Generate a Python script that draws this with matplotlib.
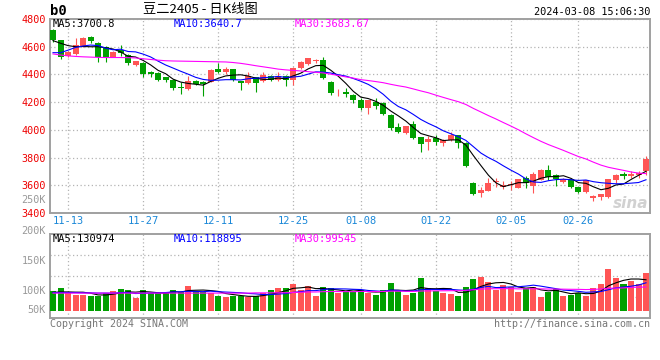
import numpy as np
import matplotlib
matplotlib.use("Agg")
import matplotlib.pyplot as plt

# ---------------- data ----------------
opens = [4720, 4645, 4535, 4545, 4598, 4668, 4625, 4598, 4528, 4575,
         4540, 4468, 4480, 4420, 4410, 4380, 4360, 4305, 4295, 4353,
         4348, 4348, 4437, 4415, 4437, 4353, 4336, 4379, 4353, 4389,
         4360, 4389, 4360, 4444, 4475, 4500, 4504, 4348, 4270, 4273,
         4252, 4219, 4161, 4204, 4192, 4108, 4019, 3976, 4043, 3945,
         3909, 3938, 3906, 3926, 3960, 3906, 3619, 3544, 3562, 3625,
         3586, 3600, 3582, 3654, 3594, 3640, 3709, 3673, 3627, 3645,
         3586, 3549, 3510, 3513, 3513, 3640, 3678, 3666, 3676, 3700]
highs = [4728, 4650, 4570, 4662, 4670, 4676, 4632, 4605, 4570, 4615,
         4545, 4500, 4490, 4428, 4415, 4385, 4365, 4345, 4388, 4358,
         4352, 4440, 4480, 4456, 4440, 4355, 4420, 4384, 4420, 4396,
         4420, 4396, 4456, 4500, 4520, 4512, 4528, 4350, 4292, 4304,
         4256, 4228, 4218, 4228, 4198, 4112, 4048, 4030, 4065, 3950,
         3957, 3962, 3935, 3983, 3965, 3912, 3625, 3586, 3650, 3650,
         3634, 3634, 3645, 3666, 3697, 3714, 3745, 3680, 3652, 3652,
         3590, 3637, 3531, 3540, 3645, 3680, 3695, 3702, 3705, 3808]
lows = [4636, 4512, 4525, 4540, 4595, 4630, 4490, 4488, 4525, 4530,
        4465, 4462, 4378, 4380, 4352, 4348, 4285, 4262, 4290, 4322,
        4245, 4345, 4410, 4405, 4350, 4287, 4332, 4276, 4348, 4350,
        4352, 4316, 4321, 4440, 4470, 4485, 4368, 4252, 4245, 4237,
        4197, 4146, 4118, 4150, 4108, 4000, 3976, 3972, 3933, 3838,
        3857, 3890, 3880, 3920, 3866, 3732, 3530, 3515, 3558, 3586,
        3570, 3567, 3578, 3582, 3544, 3636, 3637, 3594, 3620, 3582,
        3544, 3545, 3488, 3495, 3510, 3618, 3647, 3654, 3650, 3676]
closes = [4648, 4523, 4564, 4610, 4662, 4640, 4523, 4528, 4564, 4558,
          4482, 4497, 4405, 4403, 4360, 4362, 4300, 4300, 4353, 4330,
          4330, 4432, 4415, 4439, 4360, 4341, 4389, 4336, 4396, 4360,
          4389, 4360, 4444, 4492, 4516, 4504, 4372, 4268, 4275, 4261,
          4216, 4161, 4216, 4175, 4115, 4012, 3988, 4028, 3940, 3900,
          3933, 3914, 3926, 3962, 3906, 3742, 3537, 3567, 3614, 3630,
          3603, 3606, 3642, 3614, 3685, 3709, 3661, 3645, 3645, 3590,
          3555, 3635, 3520, 3540, 3642, 3676, 3666, 3685, 3690, 3790]
# volume, thousands of lots
volumes = [85, 98, 77, 67, 67, 64, 62, 75, 84, 92,
           88, 56, 88, 74, 77, 77, 88, 81, 105, 84,
           81, 77, 64, 60, 62, 62, 60, 62, 77, 88,
           98, 98, 114, 88, 105, 64, 101, 98, 74, 84,
           84, 88, 74, 67, 88, 119, 88, 67, 77, 140,
           98, 84, 74, 71, 63, 102, 134, 144, 123, 88,
           109, 102, 81, 98, 102, 60, 81, 92, 63, 67,
           77, 63, 98, 114, 176, 140, 114, 126, 114, 160]

# moving-average values before enough visible days exist
ma5_head = [4644, 4625, 4608, 4600]
ma10_head = [4557, 4557, 4575, 4595, 4605, 4612, 4608, 4590, 4578]
ma30_head = [4548, 4540, 4534, 4530, 4527, 4525, 4523, 4522, 4522, 4522,
             4521, 4519, 4513, 4508, 4503, 4499, 4497, 4496, 4495, 4494,
             4493, 4492, 4491, 4490, 4486, 4480, 4472, 4463, 4455]
vma5_head = [78, 80, 80, 79]
vma10_head = [77, 77, 77, 77, 76, 76, 75, 75, 75]
vma30_head = [75, 75, 75, 75, 75, 75, 75, 75, 75, 75,
              75, 75, 75, 75, 75, 75, 75, 75, 75, 75,
              75, 75, 75, 75, 75, 75, 75, 76, 76]

date_labels = ["11-13", "11-27", "12-11", "12-25", "01-08", "01-22", "02-05", "02-26"]
date_index = [2, 12, 22, 32, 41, 51, 61, 70]
price_ticks = [3400, 3600, 3800, 4000, 4200, 4400, 4600, 4800]

title = "豆二2405 - 日K线图"
stamp = "2024-03-08 15:06:30"
ma_text = ["MA5:3700.8", "MA10:3640.7", "MA30:3683.67"]
vma_text = ["MA5:130974", "MA10:118895", "MA30:99545"]
vol_labels = ["250K", "200K", "150K", "100K", "50K"]


# ---------------- helpers ----------------
def moving(values, n, head):
    v = np.asarray(values, dtype=float)
    rest = [v[i - n + 1:i + 1].mean() for i in range(n - 1, len(v))]
    return np.array(list(head) + rest)


W, H = 660, 360


def fx(x):
    return x / W


def fy(y):
    return 1 - y / H


RED = "#ff5555"
GREEN = "#00a000"
GRID = "#b4b4b4"
FRAME = "#a0a0a0"
MONO = "DejaVu Sans Mono"

plt.rcParams["font.family"] = ["DejaVu Sans Mono", "DejaVu Sans"]

fig = plt.figure(figsize=(W / 100, H / 100), dpi=100)
fig.patch.set_facecolor("white")

ax = fig.add_axes([fx(50), fy(213), 600 / W, 194 / H])
axv = fig.add_axes([fx(50), fy(318), 600 / W, 84 / H])

n = len(closes)
x = np.arange(n)
o = np.array(opens, float)
c = np.array(closes, float)
hi = np.array(highs, float)
lo = np.array(lows, float)
up = c >= o
cols = np.where(up, RED, GREEN)

xlim = (-0.4, 79.53)

# ---- price panel ----
ax.vlines(x, lo, hi, colors=cols, linewidth=0.8, zorder=3)
body = np.maximum(np.abs(c - o), 6)
ax.bar(x, body, bottom=np.minimum(o, c), width=0.8, color=cols, linewidth=0, zorder=4)

ax.plot(x, moving(closes, 5, ma5_head), color="black", lw=0.8, zorder=5)
ax.plot(x, moving(closes, 10, ma10_head), color="#0000ff", lw=0.8, zorder=5)
ax.plot(x, moving(closes, 30, ma30_head), color="#ff00ff", lw=0.8, zorder=5)

ax.set_xlim(*xlim)
ax.set_ylim(3400, 4800)
ax.set_yticks(price_ticks)
ax.set_yticklabels([str(t) for t in price_ticks], color="#ee0000", fontsize=7.3, family=MONO)
ax.set_xticks(date_index)
ax.set_xticklabels(date_labels, color="#1a88d8", fontsize=7.5, family=MONO)
ax.tick_params(axis="both", length=0)
ax.tick_params(axis="y", pad=3)
ax.tick_params(axis="x", pad=2)
ax.grid(True, color=GRID, linestyle=(0, (1, 2)), linewidth=0.9)
ax.set_axisbelow(True)
for s in ax.spines.values():
    s.set_color(FRAME)
    s.set_linewidth(1.4)

# ---- volume panel ----
vol = np.array(volumes, float)
axv.bar(x, vol, width=0.8, color=cols, linewidth=0, zorder=3)
axv.plot(x, moving(volumes, 5, vma5_head), color="black", lw=0.8, zorder=5)
axv.plot(x, moving(volumes, 10, vma10_head), color="#0000ff", lw=0.8, zorder=5)
axv.plot(x, moving(volumes, 30, vma30_head), color="#ff00ff", lw=0.8, zorder=5)
vlo, vhi = -29.3, 322.6
axv.set_ylim(vlo, vhi)
axv.set_xlim(*xlim)
axv.set_yticks(np.linspace(vlo, vhi, 5)[1:-1])
axv.set_yticklabels([])
axv.set_xticks(date_index)
axv.set_xticklabels([])
axv.tick_params(axis="both", length=0)
axv.grid(True, color=GRID, linestyle=(0, (1, 2)), linewidth=0.9)
axv.set_axisbelow(True)
for s in axv.spines.values():
    s.set_color(FRAME)
    s.set_linewidth(1.4)

# ---- texts ----
fig.text(fx(50), fy(11), "b0", fontsize=10, fontweight="bold", family=MONO,
         va="center", ha="left", color="black")
fig.text(fx(200), fy(10), title, fontsize=9.5, va="center", ha="center",
         family=["Noto Sans CJK SC", "DejaVu Sans"], color="black")
fig.text(fx(650), fy(12), stamp, fontsize=7.4, va="center", ha="right", family=MONO, color="black")

ma_cols = ["black", "#0000ff", "#ff00ff"]
ma_x = [53, 174, 295]
for t, col, xx in zip(ma_text, ma_cols, ma_x):
    fig.text(fx(xx), fy(24), t, fontsize=7.5, va="center", ha="left", family=MONO, color=col)
for t, col, xx in zip(vma_text, ma_cols, ma_x):
    fig.text(fx(xx), fy(239), t, fontsize=7.5, va="center", ha="left", family=MONO, color=col)

vol_label_y = [200, 231, 261, 291, 310]
for t, yy in zip(vol_labels, vol_label_y):
    fig.text(fx(46), fy(yy), t, fontsize=7.3, va="center", ha="right", family=MONO, color="#999999")

fig.text(fx(50), fy(324), "Copyright 2024 SINA.COM", fontsize=7.2, va="center", ha="left",
         family=MONO, color="#777777")
fig.text(fx(650), fy(324), "http://finance.sina.com.cn", fontsize=7.2, va="center", ha="right",
         family=MONO, color="#777777")
fig.text(fx(648), fy(204), "sina", fontsize=11, fontweight="bold", style="italic",
         va="center", ha="right", family="DejaVu Sans", color="#cccccc", alpha=0.9)

fig.savefig("out.png", dpi=100, facecolor="white")
